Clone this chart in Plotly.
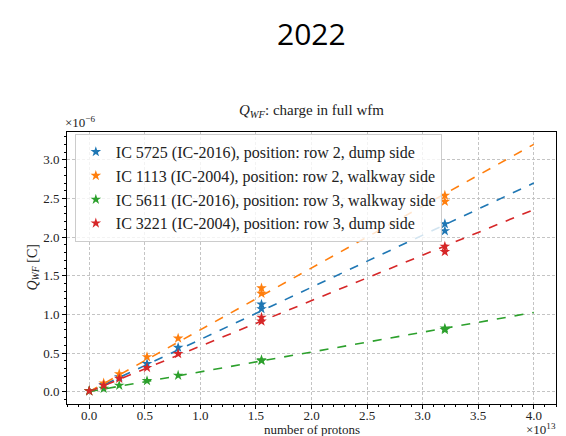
import plotly.graph_objects as go

# x in units of 1e13 protons, y in units of 1e-6 C
names = [
    "IC 5725 (IC-2016), position: row 2, dump side",
    "IC 1113 (IC-2004), position: row 2, walkway side",
    "IC 5611 (IC-2016), position: row 3, walkway side",
    "IC 3221 (IC-2004), position: row 3, dump side",
]
colors = ["#1f77b4", "#ff7f0e", "#2ca02c", "#d62728"]

x_meas = [0.0, 0.13, 0.27, 0.52, 0.80, 1.55, 1.55, 3.2, 3.2]
y_5725 = [0.01, 0.09, 0.19, 0.36, 0.57, 1.13, 1.07, 2.17, 2.08]
y_1113 = [0.01, 0.11, 0.23, 0.45, 0.69, 1.34, 1.27, 2.54, 2.46]
y_5611 = [0.01, 0.04, 0.08, 0.14, 0.21, 0.41, 0.40, 0.82, 0.80]
y_3221 = [0.01, 0.08, 0.17, 0.31, 0.49, 0.96, 0.91, 1.88, 1.81]

fit_x = [0.0, 4.0]
fit_5725 = [0.0, 2.70]
fit_1113 = [0.0, 3.20]
fit_5611 = [0.0, 1.025]
fit_3221 = [0.0, 2.355]

meas = [y_5725, y_1113, y_5611, y_3221]
fits = [fit_5725, fit_1113, fit_5611, fit_3221]

serif = "Liberation Serif"
fig = go.Figure()
for n, c, yv, fv in zip(names, colors, meas, fits):
    fig.add_trace(go.Scatter(x=fit_x, y=fv, mode="lines",
                             line=dict(color=c, width=1.6, dash="dash"),
                             showlegend=False, hoverinfo="skip"))
for n, c, yv in zip(names, colors, meas):
    fig.add_trace(go.Scatter(x=x_meas, y=yv, mode="markers", name=n,
                             marker=dict(symbol="star", size=8, color=c,
                                         line=dict(width=0))))

axis_common = dict(
    showline=True, linecolor="black", linewidth=1, mirror=True,
    ticks="outside", ticklen=4, tickcolor="black", automargin=False,
    showgrid=True, gridcolor="#c4c4c4", griddash="3px,2px", gridwidth=0.8,
    zeroline=False, tickfont=dict(family=serif, size=13, color="#222"),
    minor=dict(ticks="outside", ticklen=2, tickcolor="black", showgrid=False, dtick=0.1),
)

fig.update_layout(
    width=566, height=436,
    paper_bgcolor="white", plot_bgcolor="white",
    margin=dict(l=67, r=10, t=132, b=32),
    font=dict(family=serif, color="#222"),
    xaxis=dict(range=[-0.2, 4.2], dtick=0.5, tickformat=".1f",
               ticklabelstandoff=-5, **axis_common),
    yaxis=dict(range=[-0.16, 3.36], dtick=0.5, tickformat=".1f", **axis_common),
    legend=dict(x=0.016, y=0.993, xanchor="left", yanchor="top",
                bgcolor="rgba(255,255,255,0.8)", bordercolor="#cccccc",
                borderwidth=1, font=dict(family=serif, size=16),
                tracegroupgap=0),
    showlegend=True,
)

ph = 436 - 132 - 32
fig.add_annotation(text="2022", xref="paper", yref="paper", x=0.5, y=1 + (132 - 34) / ph,
                   xanchor="center", yanchor="middle", showarrow=False,
                   font=dict(family="Open Sans", size=30, color="black"))
fig.add_annotation(text="<i>Q</i><sub><i>WF</i></sub>: charge in full wfm",
                   xref="paper", yref="paper", x=0.5, y=1.0, yshift=10,
                   xanchor="center", yanchor="bottom", showarrow=False,
                   font=dict(family=serif, size=15, color="#222"))
fig.add_annotation(text="×10<sup>−6</sup>", xref="paper", yref="paper",
                   x=0.0, y=1.0, xanchor="left", yanchor="bottom", showarrow=False,
                   xshift=-4, yshift=0, font=dict(family=serif, size=13, color="#222"))
fig.add_annotation(text="×10<sup>13</sup>", xref="paper", yref="paper",
                   x=1.0, y=0.0, xanchor="right", yanchor="middle", showarrow=False,
                   xshift=2, yshift=-25, font=dict(family=serif, size=13, color="#222"))
fig.add_annotation(text="number of protons", xref="paper", yref="paper",
                   x=0.5, y=0.0, xanchor="center", yanchor="middle", showarrow=False,
                   yshift=-25, font=dict(family=serif, size=13, color="#222"))
fig.add_annotation(text="<i>Q</i><sub><i>WF</i></sub> [C]", xref="paper", yref="paper",
                   x=0.0, y=0.5, xanchor="right", yanchor="middle", showarrow=False,
                   textangle=-90, xshift=-24, font=dict(family=serif, size=14, color="#222"))

fig.write_html("out.html")
